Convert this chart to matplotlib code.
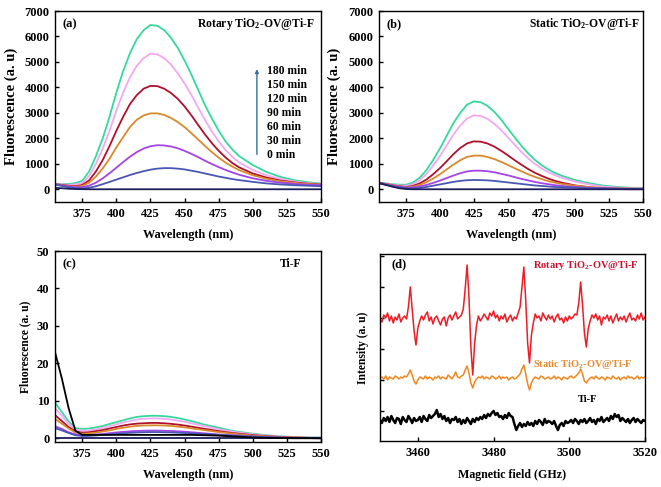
import numpy as np
import matplotlib
matplotlib.use("Agg")
import matplotlib.pyplot as plt

plt.rcParams['font.family'] = ['Liberation Serif', 'DejaVu Serif']
plt.rcParams['font.weight'] = 'bold'
plt.rcParams['mathtext.fontset'] = 'custom'
plt.rcParams['mathtext.rm'] = 'Liberation Serif:bold'
plt.rcParams['mathtext.it'] = 'Liberation Serif:bold'
plt.rcParams['mathtext.bf'] = 'Liberation Serif:bold'

# ---- fluorescence spectra (wavelength grid, nm) ----
wl = [355, 360, 365, 370, 375, 380, 385, 390, 395, 400, 405, 410, 415, 420, 425, 430, 435,
      440, 445, 450, 455, 460, 465, 470, 475, 480, 485, 490, 500, 510, 520, 530, 540, 550]
times = ["180 min", "150 min", "120 min", "90 min", "60 min", "30 min", "0 min"]

# (a) rotary
rot_180 = [200, 200, 210, 240, 330, 700, 1300, 2000, 2850, 3800, 4650, 5350, 5900, 6250, 6450, 6420, 6250,
           5950, 5550, 5050, 4500, 3900, 3300, 2780, 2300, 1880, 1560, 1300, 950, 680, 490, 360, 280, 220]
rot_150 = [200, 190, 180, 190, 250, 520, 1000, 1600, 2300, 3100, 3800, 4400, 4850, 5150, 5320, 5300, 5150,
           4900, 4550, 4150, 3700, 3200, 2720, 2270, 1880, 1540, 1270, 1050, 760, 550, 410, 310, 240, 200]
rot_120 = [200, 170, 140, 120, 170, 350, 700, 1150, 1700, 2300, 2850, 3350, 3700, 3950, 4060, 4050, 3950,
           3780, 3550, 3250, 2900, 2520, 2150, 1810, 1510, 1250, 1030, 860, 620, 460, 345, 270, 220, 190]
rot_90 = [200, 160, 120, 100, 130, 260, 500, 820, 1200, 1650, 2050, 2450, 2730, 2900, 2980, 2980, 2920,
          2800, 2640, 2440, 2200, 1950, 1700, 1460, 1240, 1050, 890, 750, 550, 410, 315, 250, 210, 180]
rot_60 = [200, 150, 110, 80, 80, 140, 260, 430, 630, 850, 1070, 1280, 1460, 1600, 1690, 1730, 1720,
          1680, 1610, 1510, 1390, 1260, 1120, 990, 870, 760, 660, 570, 430, 330, 260, 210, 180, 160]
rot_30 = [190, 130, 80, 40, 30, 60, 120, 200, 290, 380, 470, 560, 640, 710, 770, 810, 830,
          830, 810, 780, 730, 680, 620, 560, 500, 450, 400, 360, 290, 230, 190, 160, 140, 120]
rot_0 = [60, 40, 20, 10, 5, 0, 0, 0, 0, 0, 0, 0, 0, 0, 0, 0, 0,
         0, 0, 0, 0, 0, 0, 0, 0, 0, 0, 0, 0, 0, 0, 0, 0, 0]

# (b) static
sta_180 = [250, 230, 200, 180, 180, 260, 450, 750, 1150, 1600, 2100, 2600, 3000, 3320, 3450, 3420, 3280,
           3050, 2750, 2400, 2050, 1720, 1420, 1160, 950, 780, 640, 530, 360, 240, 150, 95, 60, 40]
sta_150 = [250, 220, 180, 150, 140, 200, 360, 600, 930, 1300, 1720, 2150, 2500, 2780, 2900, 2880, 2770,
           2580, 2330, 2050, 1760, 1480, 1220, 1000, 820, 670, 550, 450, 300, 190, 110, 70, 40, 30]
sta_120 = [250, 210, 160, 120, 90, 130, 230, 380, 590, 830, 1100, 1380, 1620, 1800, 1880, 1870, 1800,
           1680, 1520, 1340, 1150, 970, 800, 650, 530, 420, 330, 260, 150, 80, 30, 10, 0, 0]
sta_90 = [250, 200, 150, 110, 80, 100, 170, 280, 420, 590, 780, 970, 1140, 1270, 1320, 1320, 1270,
          1190, 1080, 960, 830, 710, 590, 490, 400, 320, 260, 210, 140, 90, 60, 40, 30, 20]
sta_60 = [250, 190, 140, 100, 70, 70, 110, 170, 250, 340, 440, 540, 630, 700, 730, 730, 710,
          670, 610, 550, 480, 410, 350, 290, 240, 200, 160, 130, 90, 60, 40, 30, 20, 20]
sta_30 = [250, 180, 120, 70, 40, 30, 50, 90, 140, 190, 240, 290, 330, 355, 365, 360, 350,
          330, 300, 270, 240, 210, 180, 150, 130, 110, 90, 80, 60, 40, 30, 20, 15, 10]
sta_0 = [240, 170, 100, 40, 10, 0, 0, 0, 0, 0, 0, 0, 0, 0, 0, 0, 0,
         0, 0, 0, 0, 0, 0, 0, 0, 0, 0, 0, 0, 0, 0, 0, 0, 0]

# (c) Ti-F
tif_180 = [9.5, 7.0, 4.5, 2.7, 2.5, 2.6, 2.9, 3.3, 3.8, 4.3, 4.8, 5.3, 5.7, 5.9, 6.0, 6.0, 5.9,
           5.7, 5.4, 5.0, 4.6, 4.1, 3.6, 3.2, 2.8, 2.4, 2.0, 1.7, 1.2, 0.8, 0.5, 0.35, 0.25, 0.2]
tif_150 = [8.0, 6.0, 3.8, 2.3, 2.0, 2.1, 2.4, 2.8, 3.2, 3.7, 4.2, 4.6, 5.0, 5.2, 5.3, 5.3, 5.2,
           5.0, 4.7, 4.4, 4.0, 3.6, 3.2, 2.8, 2.4, 2.1, 1.8, 1.5, 1.05, 0.7, 0.45, 0.3, 0.2, 0.15]
tif_120 = [6.2, 4.6, 3.0, 1.8, 1.5, 1.6, 1.9, 2.2, 2.6, 3.0, 3.4, 3.7, 3.9, 4.0, 4.1, 4.1, 4.0,
           3.85, 3.65, 3.4, 3.1, 2.8, 2.5, 2.2, 1.9, 1.65, 1.4, 1.2, 0.85, 0.55, 0.35, 0.2, 0.1, 0.05]
tif_90 = [5.2, 3.9, 2.6, 1.5, 1.2, 1.3, 1.5, 1.8, 2.1, 2.5, 2.8, 3.1, 3.3, 3.4, 3.45, 3.45, 3.4,
          3.3, 3.1, 2.9, 2.65, 2.4, 2.15, 1.9, 1.65, 1.45, 1.25, 1.05, 0.75, 0.5, 0.3, 0.2, 0.1, 0.05]
tif_60 = [3.2, 2.5, 1.6, 1.0, 0.8, 0.85, 1.0, 1.15, 1.35, 1.55, 1.7, 1.85, 1.95, 2.0, 2.05, 2.05, 2.0,
          1.95, 1.85, 1.75, 1.6, 1.45, 1.3, 1.15, 1.0, 0.9, 0.8, 0.7, 0.5, 0.35, 0.2, 0.1, 0.05, 0.0]
tif_30 = [2.7, 2.1, 1.4, 0.8, 0.6, 0.65, 0.75, 0.9, 1.05, 1.2, 1.35, 1.45, 1.55, 1.6, 1.65, 1.65, 1.6,
          1.55, 1.5, 1.4, 1.3, 1.2, 1.1, 1.0, 0.9, 0.8, 0.7, 0.6, 0.45, 0.3, 0.2, 0.1, 0.05, 0.0]
tif_0 = [0] * 34
tif_blank = [23, 16, 8, 2, 0.9, 0.9, 0.9, 0.9, 0.9, 0.9, 0.9, 0.9, 0.9, 0.9, 0.9, 0.9, 0.9,
             0.9, 0.9, 0.9, 0.9, 0.85, 0.8, 0.75, 0.7, 0.6, 0.5, 0.4, 0.2, 0.1, 0.05, 0, 0, 0]

curve_colors = ['#35d99c', '#f2a9f2', '#b0102c', '#d9892c', '#a444e8', '#4a56b4', '#1c1c5a']

# ---- EPR (magnetic field 3450..3520, step 0.5) ----
field_start, field_step = 3450, 0.5
epr_rotary = [0, -3, 4, 1, 6, -2, 3, -4, 2, -1,
              5, -3, 1, 3, 0, 12, 32, 10, -12, -26,
              -9, -2, 3, -1, 4, 7, -2, 2, -5, 1,
              3, -2, -6, 0, 2, -7, 1, 4, -1, 3,
              7, 0, 2, 4, 10, 30, 54, 22, -28, -56,
              -24, -6, 3, -2, 1, 5, 2, -1, 6, 3,
              8, 1, 4, -2, 3, 0, 5, -3, 1, 4,
              -2, 2, 0, 6, 12, 32, 52, 18, -24, -44,
              -16, -4, 5, 1, 3, -2, 6, 2, -1, 4,
              0, 3, -3, 2, 5, -1, 1, -4, 2, -2,
              3, 0, 2, 5, 4, 16, 37, 14, -14, -28,
              -10, -2, 4, 1, 5, -1, 3, -6, 2, 0,
              4, -2, 3, -4, 1, 5, -2, 2, -1, 3,
              -3, 2, 6, -1, 1, -2, 4, 0, 6, -1,
              2]
epr_static = [0, 1, -1, 2, -2, 1, 0, -1, 2, 1,
              -1, 1, 0, 2, 1, 4, 8, 3, -3, -6,
              -2, 1, 0, -1, 2, -1, 1, 0, -2, 1,
              0, 2, -1, 1, 0, -1, 3, 1, -1, 2,
              6, 1, 0, 2, 3, 8, 12, 5, -5, -10,
              -4, -1, 1, 0, 2, -1, 1, 0, -1, 2,
              1, -1, 0, 2, -1, 1, 0, 1, -2, 0,
              1, -1, 0, 2, 4, 9, 13, 4, -6, -12,
              -5, -1, 1, 0, -1, 2, 1, -1, 0, 1,
              -1, 0, 2, -1, 1, 0, -2, 1, 0, -1,
              1, 2, 0, 1, 3, 5, 9, 4, -3, -5,
              -2, 0, 1, -1, 2, 0, -1, 1, 0, -2,
              1, 0, -1, 2, 0, -1, 1, -2, 0, 1,
              -1, 2, 0, 1, -1, 0, 2, -1, 1, 0,
              1]
epr_tif = [0, -3, 2, -1, 3, -2, 4, 0, -3, 2,
           1, -4, 3, 0, -2, 4, 1, -3, 2, -1,
           0, 3, -2, 4, 1, -1, 5, 2, 4, 6,
           10, 3, 6, 1, 4, -1, 2, -3, 1, 0,
           3, -2, 1, -4, 0, -3, 2, -1, -4, 1,
           -2, 2, 0, 3, 1, 5, 2, 6, 4, 7,
           9, 5, 7, 3, 4, 1, 5, 2, 7, 4,
           3, -4, -10, -6, -3, -7, -4, -6, -2, -5,
           -3, -6, -1, -4, 0, -2, -5, 1, -3, -1,
           -2, -4, -1, -6, -10, -5, -3, -6, -1, -3,
           -2, 0, -3, 1, -1, -4, 0, -2, 1, -3,
           -1, 2, -2, 0, -4, 1, -1, 3, -2, 0,
           2, -1, 4, 1, 6, 3, 5, -1, 2, 0,
           -2, 1, -3, 0, 2, -2, 1, -1, -3, 0,
           -1]
field = field_start + field_step * np.arange(len(epr_rotary))

W, H = 661, 487
fig = plt.figure(figsize=(W / 100, H / 100), dpi=100)


def box(l, t, r, b):
    return [l / W, 1 - b / H, (r - l) / W, (b - t) / H]


def style(ax):
    ax.tick_params(direction='in', length=3, width=1, labelsize=9, pad=4,
                   top=False, right=False)
    for lab in ax.get_xticklabels() + ax.get_yticklabels():
        lab.set_fontweight('bold')
    for s in ax.spines.values():
        s.set_linewidth(1.0)


def fluo_panel(ax, curves, ylim, yticks, letter, label, lx):
    for c, col in zip(curves, curve_colors):
        ax.plot(wl, c, color=col, lw=1.3)
    ax.set_xlim(355, 550)
    ax.set_ylim(*ylim)
    ax.set_xticks([375, 400, 425, 450, 475, 500, 525, 550])
    ax.set_yticks(yticks)
    style(ax)
    ax.text(0.03, 0.93, letter, transform=ax.transAxes, fontsize=9, fontweight='bold',
            va='center', ha='left')
    ax.text(lx, 0.93, label, transform=ax.transAxes, fontsize=8.4, fontweight='bold',
            va='center', ha='right')
    ax.text(0.5, -0.175, "Wavelength (nm)", transform=ax.transAxes, fontsize=8.8,
            fontweight='bold', ha='center', va='center')


# (a)
axa = fig.add_axes(box(55, 11, 321, 202))
fluo_panel(axa, [rot_180, rot_150, rot_120, rot_90, rot_60, rot_30, rot_0],
           (-500, 7000), range(0, 7001, 1000), "(a)", r"Rotary TiO$_2$-OV@Ti-F", 0.977)
axa.text(-0.165, 0.5, "Fluorescence (a. u)", transform=axa.transAxes, rotation=90,
         fontsize=10.5, fontweight='bold', ha='center', va='center')
axa.annotate("", xy=(0.759, 0.71), xytext=(0.759, 0.235), xycoords='axes fraction',
             arrowprops=dict(arrowstyle='-|>', color='#3a6f96', lw=1.0, mutation_scale=5))
for i, t in enumerate(times):
    axa.text(0.797, 0.686 - i * 0.0733, t, transform=axa.transAxes, fontsize=8.4,
             fontweight='bold', va='center', ha='left')

# (b)
axb = fig.add_axes(box(379, 11, 643, 202))
fluo_panel(axb, [sta_180, sta_150, sta_120, sta_90, sta_60, sta_30, sta_0],
           (-500, 7000), range(0, 7001, 1000), "(b)", r"Static TiO$_2$-OV@Ti-F", 0.99)
axb.text(-0.17, 0.5, "Fluorescence (a. u)", transform=axb.transAxes, rotation=90,
         fontsize=10.5, fontweight='bold', ha='center', va='center')

# (c)
axc = fig.add_axes(box(55, 251, 321, 442))
fluo_panel(axc, [tif_180, tif_150, tif_120, tif_90, tif_60, tif_30, tif_0],
           (-1, 50), range(0, 51, 10), "(c)", "Ti-F", 0.925)
axc.plot(wl, tif_blank, color='black', lw=1.3)
axc.text(-0.113, 0.5, "Fluorescence (a. u)", transform=axc.transAxes, rotation=90,
         fontsize=8.4, fontweight='bold', ha='center', va='center')

# (d)
axd = fig.add_axes(box(380, 254, 645, 441))
axd.plot(field, np.array(epr_rotary) + 122, color='#ee1c24', lw=1.1)
axd.plot(field, np.array(epr_static) + 63, color='#f0881e', lw=1.1)
axd.plot(field, np.array(epr_tif) + 21, color='black', lw=1.8)
axd.set_xlim(3450, 3520)
axd.set_ylim(0, 187)
axd.set_xticks([3460, 3480, 3500, 3520])
axd.set_yticks(np.arange(30, 187, 31))
axd.set_yticklabels([])
style(axd)
axd.text(0.045, 0.947, "(d)", transform=axd.transAxes, fontsize=9, fontweight='bold',
         va='center', ha='left')
axd.text(0.577, 0.94, r"Rotary TiO$_2$-OV@Ti-F", transform=axd.transAxes, fontsize=7.5,
         color='#c8102e', fontweight='bold', va='center', ha='left')
axd.text(0.577, 0.41, r"Static TiO$_2$-OV@Ti-F", transform=axd.transAxes, fontsize=7.5,
         color='#e8892a', fontweight='bold', va='center', ha='left')
axd.text(0.785, 0.22, "Ti-F", transform=axd.transAxes, fontsize=7.5,
         color='black', fontweight='bold', va='center', ha='center')
axd.text(-0.064, 0.5, "Intensity (a. u)", transform=axd.transAxes, rotation=90,
         fontsize=8.4, fontweight='bold', ha='center', va='center')
axd.text(0.5, -0.18, "Magnetic field (GHz)", transform=axd.transAxes, fontsize=8.6,
         fontweight='bold', ha='center', va='center')

fig.savefig("out.png", dpi=100)
